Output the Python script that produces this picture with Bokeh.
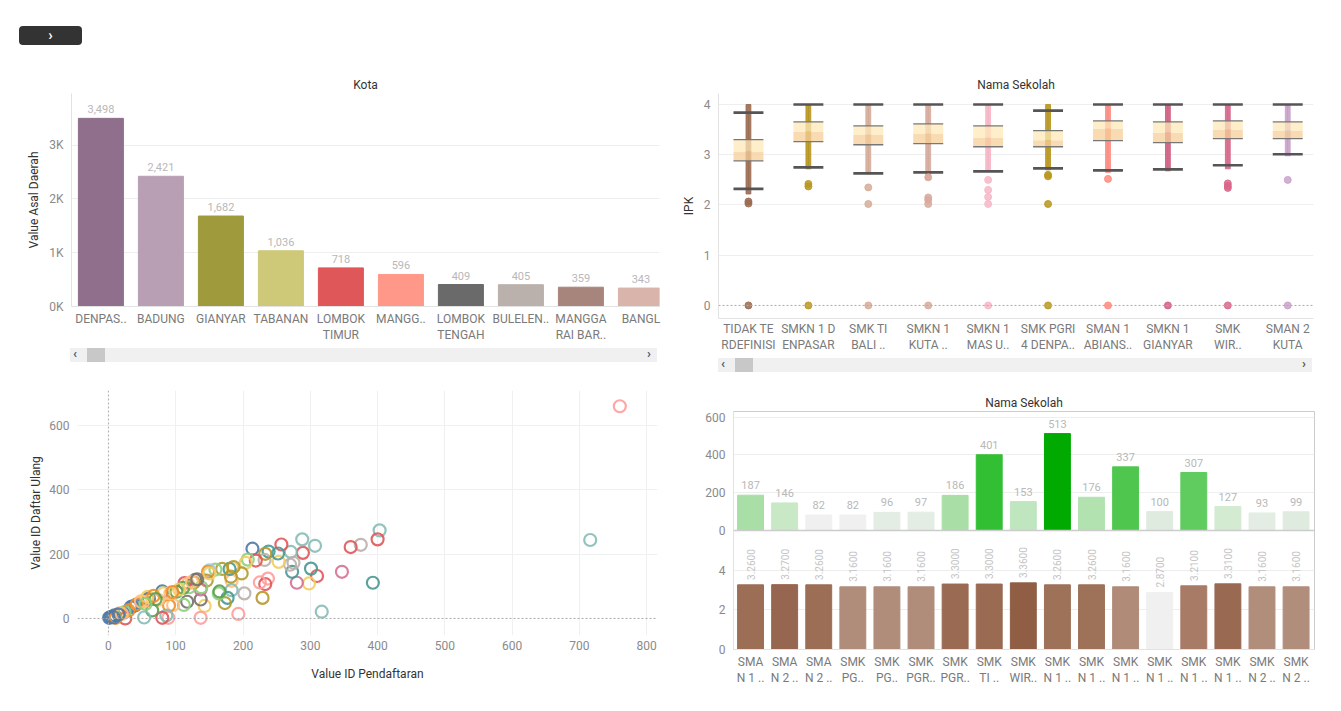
import math
from bokeh.plotting import figure
from bokeh.layouts import column, row
from bokeh.models import Range1d, FixedTicker, Span, Label, Div
from bokeh.embed import file_html
from bokeh.resources import INLINE
from bokeh.core.properties import value

FONT = "Roboto"

# ---------------- data ----------------
kota_labels = ["DENPAS..", "BADUNG", "GIANYAR", "TABANAN", "LOMBOK\nTIMUR", "MANGG..",
               "LOMBOK\nTENGAH", "BULELEN..", "MANGGA\nRAI BAR..", "BANGL"]
kota_values = [3498, 2421, 1682, 1036, 718, 596, 409, 405, 359, 343]
kota_colors = ["#8f6f8c", "#b89fb4", "#9f9b3d", "#cdc978", "#e05759", "#ff9888",
               "#6a6a6a", "#bab0ac", "#a8857c", "#d9b4ab"]

box_labels = ["TIDAK TE\nRDEFINISI", "SMKN 1 D\nENPASAR", "SMK TI\nBALI ..", "SMKN 1\nKUTA ..",
              "SMKN 1\nMAS U..", "SMK PGRI\n4 DENPA..", "SMAN 1\nABIANS..", "SMKN 1\nGIANYAR",
              "SMK\nWIR..", "SMAN 2\nKUTA"]
box_whisker_lo = [2.32, 2.75, 2.63, 2.65, 2.67, 2.73, 2.69, 2.71, 2.79, 3.01]
box_q1 = [2.88, 3.26, 3.20, 3.22, 3.16, 3.16, 3.28, 3.24, 3.32, 3.32]
box_median = [3.06, 3.46, 3.40, 3.42, 3.34, 3.29, 3.52, 3.44, 3.50, 3.48]
box_q3 = [3.30, 3.655, 3.575, 3.615, 3.575, 3.48, 3.675, 3.655, 3.675, 3.655]
box_whisker_hi = [3.84, 4.0, 4.0, 4.0, 4.0, 3.88, 4.0, 4.0, 4.0, 4.0]
strip_lo = [2.22, 2.72, 2.62, 2.50, 2.70, 2.70, 2.65, 2.68, 2.72, 2.98]
strip_hi = [4.0, 4.0, 4.0, 4.0, 4.0, 4.0, 4.0, 4.0, 4.0, 4.0]
box_colors = ["#9a6a50", "#b8961e", "#d6ac98", "#d7aa9c", "#f7b6c7", "#b8961e",
              "#ff8a7e", "#d15d80", "#d8668a", "#c9a2c9"]
outlier_cat = [0, 0, 0, 1, 1, 1, 2, 2, 2, 3, 3, 3, 3, 3, 4, 4, 4, 4, 4,
               5, 5, 5, 5, 6, 6, 7, 8, 8, 8, 8, 9, 9]
outlier_ipk = [2.07, 2.03, 0.0, 2.42, 2.37, 0.0, 2.35, 2.02, 0.0, 2.15, 2.10, 2.02, 2.55, 0.0,
               2.50, 2.30, 2.16, 2.02, 0.0, 2.60, 2.57, 2.02, 0.0, 2.52, 0.0, 0.0,
               2.43, 2.38, 2.34, 0.0, 2.50, 0.0]

T = {"blue": "#4e79a7", "lblue": "#a0cbe8", "orange": "#f28e2b", "lorange": "#ffbe7d",
     "green": "#59a14f", "lgreen": "#8cd17d", "olive": "#b6992d", "yellow": "#f1ce63",
     "teal": "#499894", "lteal": "#86bcb6", "red": "#e15759", "pink": "#ff9d9a",
     "dgray": "#79706e", "gray": "#bab0ac", "magenta": "#d37295"}
sc_pendaftaran = [760, 716, 403, 400, 375, 360, 393, 347, 317, 310, 301, 307, 298, 289, 288, 280,
                  271, 273, 275, 270, 257, 253, 252, 237, 238, 233, 225, 232, 233, 229, 214, 219,
                  207, 204, 202, 193, 198, 184, 183, 183, 182, 180, 177, 169, 173, 164, 165, 159,
                  150, 148, 146, 143, 137, 137, 137, 138, 129, 127, 117, 112, 113, 118, 120, 111,
                  101, 96, 90, 89, 86, 80, 80, 82, 74, 65, 60, 60, 53, 52, 33, 36, 40, 25, 16, 9,
                  5, 1, 3, 11, 24, 42, 48, 58, 67, 92, 105, 124, 132, 150, 186, 95, 70, 55, 30,
                  20, 15, 8]
sc_daftar_ulang = [660, 244, 274, 246, 229, 222, 111, 145, 21, 132, 155, 226, 109, 204, 246, 111,
                   207, 145, 173, 167, 230, 176, 202, 124, 208, 107, 112, 182, 201, 64, 217, 180,
                   183, 173, 78, 14, 140, 157, 117, 88, 130, 154, 64, 154, 48, 78, 84, 152,
                   150, 145, 118, 39, 2, 59, 90, 97, 120, 112, 52, 42, 110, 108, 97, 95,
                   83, 42, 40, 2, 9, 2, 84, 78, 58, 25, 58, 62, 3, 52, 35, 38, 41, 0, 15, 10,
                   5, 2, 4, 2, 20, 44, 53, 67, 70, 78, 90, 114, 122, 140, 160, 82, 60, 45, 25,
                   14, 12, 3]
sc_color_names = ["pink", "lteal", "lteal", "red", "gray", "red", "teal", "magenta", "lteal", "red",
                  "teal", "lteal", "yellow", "red", "lteal", "magenta", "lteal", "teal", "gray",
                  "gray", "red", "yellow", "teal", "pink", "teal", "red", "pink", "gray", "olive",
                  "olive", "blue", "red", "lgreen", "yellow", "gray", "pink", "olive", "yellow",
                  "lorange", "lteal", "olive", "teal", "teal", "olive", "olive", "lgreen", "green",
                  "lgreen", "lblue", "orange", "olive", "yellow", "pink", "dgray", "magenta",
                  "lgreen", "dgray", "olive", "dgray", "lgreen", "red", "lorange", "lgreen",
                  "green", "green", "lorange", "orange", "pink", "lteal", "red", "blue", "yellow",
                  "lorange", "green", "orange", "blue", "lteal", "lorange", "blue", "blue", "blue",
                  "red", "orange", "blue", "blue", "blue", "blue", "orange", "lgreen", "orange",
                  "lorange", "yellow", "orange", "lorange", "yellow", "lorange", "dgray", "yellow",
                  "olive", "orange", "green", "lgreen", "orange", "lorange", "blue", "blue"]

sekolah_labels = ["SMA\nN 1 ..", "SMA\nN 2 ..", "SMA\nN 2 ..", "SMK\nPG..", "SMK\nPG..",
                  "SMK\nPGR..", "SMK\nPGR..", "SMK\nTI ..", "SMK\nWIR..", "SMK\nN 1 ..",
                  "SMK\nN 1 ..", "SMK\nN 1 ..", "SMK\nN 1 ..", "SMK\nN 1 ..", "SMK\nN 1 ..",
                  "SMK\nN 2 ..", "SMK\nN 2 .."]
asal_sekolah = [187, 146, 82, 82, 96, 97, 186, 401, 153, 513, 176, 337, 100, 307, 127, 93, 99]
avg_ipk = [3.26, 3.27, 3.26, 3.16, 3.16, 3.16, 3.30, 3.30, 3.36, 3.26, 3.26, 3.16, 2.87,
           3.21, 3.31, 3.16, 3.16]
green_colors = ["#a9dea6", "#c8e8c6", "#f0f0f0", "#f0f0f0", "#e3ede3", "#e3ede3", "#a9dea6",
                "#33bf33", "#c0e6bf", "#00aa00", "#b3e2b1", "#4fc74f", "#e0ebe0", "#60cc60",
                "#d3ebd1", "#e3ede3", "#e0ebe0"]
brown_colors = ["#9c6e56", "#976650", "#9c6e56", "#b08c7a", "#b08c7a", "#b08c7a", "#9a6a53",
                "#9a6a53", "#8f5e45", "#9e7159", "#9e7159", "#b08b78", "#f0f0f0", "#a87b66",
                "#996951", "#b18e7c", "#b18e7c"]

TICK_C = "#8a8a8a"
CAT_C = "#7a7a7a"
LAB_C = "#333333"


def style(p, cat_x=False):
    for ax in p.axis:
        ax.major_tick_line_color = None
        ax.minor_tick_line_color = None
        ax.major_tick_out = 0
        ax.major_tick_in = 0
        ax.minor_tick_out = 0
        ax.minor_tick_in = 0
        ax.axis_line_color = "#e2e2e2"
        ax.major_label_text_font = FONT
        ax.major_label_text_font_size = "12px"
        ax.major_label_text_color = TICK_C
        ax.axis_label_text_font = FONT
        ax.axis_label_text_font_size = "12px"
        ax.axis_label_text_font_style = "normal"
        ax.axis_label_text_color = LAB_C
    p.xaxis.major_label_standoff = 5
    p.yaxis.major_label_standoff = 8
    if cat_x:
        p.xaxis.major_label_text_color = CAT_C
    p.outline_line_color = None
    p.background_fill_color = "white"
    p.border_fill_color = "white"
    if p.title is not None:
        p.title.text_font = FONT
        p.title.text_font_size = "12px"
        p.title.text_font_style = "normal"
        p.title.text_color = LAB_C
        p.title.align = "center"
        p.title.standoff = 3


# ---------------- Kota bar chart ----------------
n1 = len(kota_labels)
x1 = list(range(n1))
p1 = figure(width=670, height=275, title="Kota", x_range=Range1d(-0.49, 9.31),
            y_range=Range1d(0, 3960), output_backend="svg", toolbar_location=None,
            min_border_left=71, min_border_right=11, min_border_top=23, min_border_bottom=38)
p1.vbar(x=x1, top=kota_values, width=0.75, color=kota_colors)
p1.text(x=x1, y=kota_values, text=[f"{v:,}" for v in kota_values], text_align="center",
        text_baseline="bottom", y_offset=-5, text_font=value(FONT), text_font_size="11px",
        text_color="#b8b8b8")
p1.xaxis.ticker = FixedTicker(ticks=x1)
p1.xaxis.major_label_overrides = {i: l for i, l in enumerate(kota_labels)}
p1.yaxis.ticker = FixedTicker(ticks=[0, 1000, 2000, 3000])
p1.yaxis.major_label_overrides = {0: "0K", 1000: "1K", 2000: "2K", 3000: "3K"}
p1.yaxis.axis_label = "Value Asal Daerah"
style(p1, cat_x=True)
p1.xgrid.grid_line_color = None
p1.ygrid.grid_line_color = "#eeeeee"
p1.ygrid.ticker = FixedTicker(ticks=[1000, 2000, 3000])

# ---------------- box plot ----------------
n2 = len(box_labels)
x2 = list(range(n2))
p2 = figure(width=671, height=285, title="Nama Sekolah", x_range=Range1d(-0.5, 9.43),
            y_range=Range1d(-0.26, 4.22), output_backend="svg", toolbar_location=None,
            min_border_left=48, min_border_right=28, min_border_top=23, min_border_bottom=37)
p2.add_layout(Span(location=0, dimension="width", line_color="#aaaaaa", line_dash="2 2",
                   line_width=1))
p2.segment(x0=x2, x1=x2, y0=box_whisker_lo, y1=box_whisker_hi, line_color="#8a8a8a",
           line_width=1)
p2.vbar(x=x2, width=0.08, bottom=strip_lo, top=strip_hi, color=box_colors, alpha=0.9)
p2.vbar(x=x2, width=0.5, bottom=box_q1, top=box_median, fill_color="#f5cf98",
        line_color=None, fill_alpha=0.75)
p2.vbar(x=x2, width=0.5, bottom=box_median, top=box_q3, fill_color="#fde8b8",
        line_color=None, fill_alpha=0.75)
p2.segment(x0=[x - 0.25 for x in x2], x1=[x + 0.25 for x in x2], y0=box_q1, y1=box_q1,
           line_color="#777777", line_width=1.3)
p2.segment(x0=[x - 0.25 for x in x2], x1=[x + 0.25 for x in x2], y0=box_q3, y1=box_q3,
           line_color="#777777", line_width=1.3)
p2.segment(x0=[x - 0.25 for x in x2], x1=[x + 0.25 for x in x2], y0=box_whisker_lo,
           y1=box_whisker_lo, line_color="#555555", line_width=2.6)
p2.segment(x0=[x - 0.25 for x in x2], x1=[x + 0.25 for x in x2], y0=box_whisker_hi,
           y1=box_whisker_hi, line_color="#555555", line_width=2.6)
p2.scatter(x=outlier_cat, y=outlier_ipk, size=7, marker="circle",
           color=[box_colors[c] for c in outlier_cat], alpha=0.85)
p2.xaxis.ticker = FixedTicker(ticks=x2)
p2.xaxis.major_label_overrides = {i: l for i, l in enumerate(box_labels)}
p2.yaxis.ticker = FixedTicker(ticks=[0, 1, 2, 3, 4])
p2.yaxis.axis_label = "IPK"
style(p2, cat_x=True)
p2.xaxis.major_label_standoff = 3
p2.xgrid.grid_line_color = None
p2.ygrid.grid_line_color = "#eeeeee"
p2.ygrid.ticker = FixedTicker(ticks=[1, 2, 3, 4])

# ---------------- scatter ----------------
p3 = figure(width=670, height=331, x_range=Range1d(-46, 816), y_range=Range1d(-53, 709),
            output_backend="svg", toolbar_location=None, title=None,
            min_border_left=77, min_border_right=13, min_border_top=10, min_border_bottom=76)
p3.add_layout(Span(location=0, dimension="width", line_color="#aaaaaa", line_dash="2 2"))
p3.add_layout(Span(location=0, dimension="height", line_color="#aaaaaa", line_dash="2 2"))
p3.scatter(x=sc_pendaftaran, y=sc_daftar_ulang, marker="circle", size=12, fill_color=None,
           line_color=[T[c] for c in sc_color_names], line_width=2.2, line_alpha=0.9)
p3.xaxis.ticker = FixedTicker(ticks=[0, 100, 200, 300, 400, 500, 600, 700, 800])
p3.yaxis.ticker = FixedTicker(ticks=[0, 200, 400, 600])
p3.xaxis.axis_label = "Value ID Pendaftaran"
p3.yaxis.axis_label = "Value ID Daftar Ulang"
style(p3)
p3.xaxis.axis_line_color = None
p3.yaxis.axis_line_color = None
p3.xgrid.grid_line_color = "#f0f0f0"
p3.ygrid.grid_line_color = "#f0f0f0"
p3.xgrid.ticker = FixedTicker(ticks=[100, 200, 300, 400, 500, 600, 700, 800])
p3.ygrid.ticker = FixedTicker(ticks=[200, 400, 600])
p3.xaxis.axis_label_standoff = 14
p3.yaxis.axis_label_standoff = 3

# ---------------- asal sekolah / avg ipk ----------------
n4 = len(sekolah_labels)
x4 = list(range(n4))
p4 = figure(width=671, height=331, title="Nama Sekolah", x_range=Range1d(-0.5, 16.54),
            y_range=Range1d(-630, 630), output_backend="svg", toolbar_location=None,
            min_border_left=63, min_border_right=27, min_border_top=31, min_border_bottom=62)
p4.extra_y_ranges = {"b": Range1d(0, 12)}
p4.vbar(x=x4, top=asal_sekolah, bottom=0, width=0.76, color=green_colors)
p4.text(x=x4, y=asal_sekolah, text=[str(v) for v in asal_sekolah], text_align="center",
        text_baseline="bottom", y_offset=-6, text_font=value(FONT), text_font_size="11px",
        text_color="#b8b8b8")
p4.vbar(x=x4, top=avg_ipk, bottom=0, width=0.76, color=brown_colors, y_range_name="b")
p4.text(x=x4, y=[v + 0.25 for v in avg_ipk], text=[f"{v:.4f}" for v in avg_ipk],
        angle=math.pi / 2, text_align="left", text_baseline="middle", y_range_name="b",
        text_font=value(FONT), text_font_size="10px", text_color="#c4c4c4")
p4.add_layout(Span(location=0, dimension="width", line_color="#cccccc", line_width=1.5))
ticks4 = [-630, -420, -210, 0, 200, 400, 600]
p4.yaxis.ticker = FixedTicker(ticks=ticks4)
p4.yaxis.major_label_overrides = {-630: "0", -420: "2", -210: "4", 0: "0", 200: "200",
                                  400: "400", 600: "600"}
p4.xaxis.ticker = FixedTicker(ticks=x4)
p4.xaxis.major_label_overrides = {i: l for i, l in enumerate(sekolah_labels)}
style(p4, cat_x=True)
p4.outline_line_color = "#cccccc"
p4.xgrid.grid_line_color = None
p4.ygrid.grid_line_color = "#eeeeee"
p4.ygrid.ticker = FixedTicker(ticks=[-420, -210, 200, 400, 600])
p4.add_layout(Label(x=-44, y=179, x_units="screen", y_units="screen",
                    text="Value Asalah Sekol..", angle=math.pi / 2, text_align="center",
                    text_baseline="middle", text_font=FONT, text_font_size="12px",
                    text_color=LAB_C))
p4.add_layout(Label(x=-44, y=59, x_units="screen", y_units="screen", text="Avg. IPK",
                    angle=math.pi / 2, text_align="center", text_baseline="middle",
                    text_font=FONT, text_font_size="12px", text_color=LAB_C))


# ---------------- html pieces ----------------
def scrollbar(w, h, left, top, bw, thumb_left):
    html = (
        f'<div style="position:relative;width:{w}px;height:{h}px;">'
        f'<div style="position:absolute;left:{left}px;top:{top}px;width:{bw}px;height:14px;'
        f'background:#f0f0f0;"></div>'
        f'<div style="position:absolute;left:{thumb_left}px;top:{top}px;width:18px;height:14px;'
        f'background:#c8c8c8;"></div>'
        f'<div style="position:absolute;left:{left + 3}px;top:{top - 2}px;font:bold 13px {FONT};'
        f'color:#555;">&#8249;</div>'
        f'<div style="position:absolute;left:{left + bw - 10}px;top:{top - 2}px;'
        f'font:bold 13px {FONT};color:#555;">&#8250;</div>'
        '</div>')
    return Div(text=html, width=w, height=h, margin=(0, 0, 0, 0))


header = Div(text=(
    '<div style="position:relative;width:1341px;height:70px;">'
    '<div style="position:absolute;left:19px;top:26px;width:63px;height:19px;background:#333333;'
    f'border-radius:4px;color:white;font:bold 15px {FONT};text-align:center;line-height:18px;">'
    '&#8250;</div></div>'), width=1341, height=70, margin=(0, 0, 0, 0))

sc_left = scrollbar(670, 35, 70, 3, 587, 87)
sc_right = scrollbar(671, 25, 48, 3, 594, 65)

layout = column(header,
                row(column(p1, sc_left, spacing=0), column(p2, sc_right, spacing=0), spacing=0),
                row(column(p3, spacing=0), column(p4, spacing=0), spacing=0), spacing=0)

open("out.html", "w").write(file_html(layout, INLINE))
